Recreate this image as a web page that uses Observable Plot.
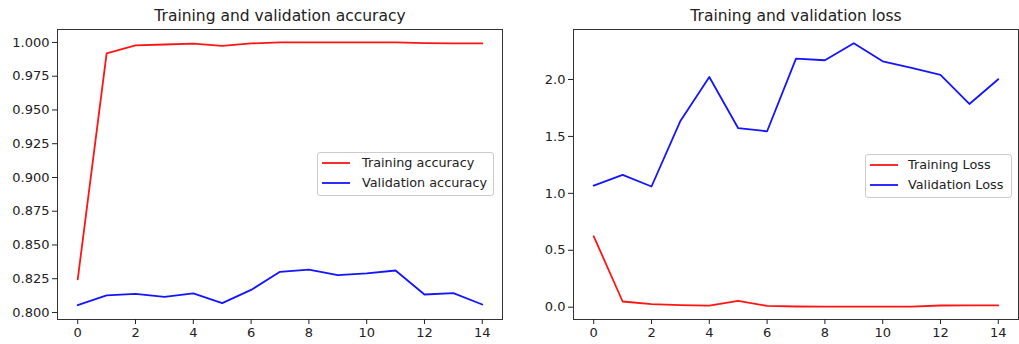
<!DOCTYPE html>
<html><head><meta charset="utf-8">
<script src="https://cdn.jsdelivr.net/npm/d3@7"></script>
<script src="https://cdn.jsdelivr.net/npm/@observablehq/plot@0.6"></script>
<style>
body{margin:0;background:#fff;font-family:"DejaVu Sans",sans-serif;}
#wrap{position:relative;width:1019px;height:344px;overflow:hidden;}
.panel{position:absolute;top:0;}
.legend{position:absolute;border:1px solid #cccccc;border-radius:3px;background:rgba(255,255,255,0.8);font-size:12.8px;color:#222;box-sizing:border-box;}
.legend svg{position:absolute;left:3px;}
.legend .lb{position:absolute;line-height:14px;white-space:nowrap;}
</style></head>
<body>
<div id="wrap"></div>
<script>
const epochs = [0,1,2,3,4,5,6,7,8,9,10,11,12,13,14];
const trainAcc = [0.8245,0.9919,0.9978,0.9985,0.9992,0.9975,0.9993,1.0,1.0,1.0,1.0,1.0,0.9995,0.9993,0.9993];
const valAcc = [0.8054,0.8126,0.8138,0.8116,0.8141,0.8069,0.8167,0.8301,0.8318,0.8276,0.8289,0.8311,0.8133,0.8143,0.8059];
const trainLoss = [0.623,0.050,0.027,0.019,0.014,0.055,0.012,0.006,0.005,0.005,0.005,0.005,0.015,0.016,0.016];
const valLoss = [1.068,1.162,1.060,1.636,2.022,1.572,1.545,2.183,2.169,2.318,2.160,2.101,2.040,1.785,2.002];
const xTicks = [0,2,4,6,8,10,12,14];
const accTicks = [0.800,0.825,0.850,0.875,0.900,0.925,0.950,0.975,1.000];
const lossTicks = [0.0,0.5,1.0,1.5,2.0];
const accNames = ["Training accuracy","Validation accuracy"];
const lossNames = ["Training Loss","Validation Loss"];
const colors = ["#ff0000","#0000ff"];

const wrap = document.getElementById("wrap");
const NS = "http://www.w3.org/2000/svg";

function panel(o){
  const data = o.series.flatMap((vals,k)=>epochs.map((e,i)=>({epoch:e,value:vals[i],name:o.names[k]})));
  const svg = Plot.plot({
    width:o.width, height:344,
    marginLeft:o.ml, marginRight:o.mr, marginTop:29, marginBottom:25,
    x:{domain:[-0.7,14.7]},
    y:{domain:o.yDomain},
    color:{domain:o.names, range:colors},
    style:{fontFamily:'"DejaVu Sans",sans-serif', fontSize:"13px", color:"#222", background:"transparent", overflow:"visible"},
    marks:[
      Plot.line(data,{x:"epoch",y:"value",z:"name",stroke:"name",strokeWidth:1.8,strokeLinejoin:"round",strokeOpacity:0.92}),
      Plot.frame({stroke:"#333",strokeWidth:1}),
      Plot.axisX({ticks:xTicks,tickSize:5,tickPadding:3,label:null,tickFormat:d3.format("d")}),
      Plot.axisY({ticks:o.yTicks,tickSize:5,tickPadding:3,label:null,tickFormat:d3.format(o.fmt)}),
      Plot.text([o.title],{text:d=>d,frameAnchor:"top",dy:-13,lineAnchor:"middle",fontSize:15.5,fill:"#222"})
    ]
  });
  const div = document.createElement("div");
  div.className="panel"; div.style.left=o.left+"px";
  div.appendChild(svg);
  wrap.appendChild(div);
  const lg = document.createElement("div");
  lg.className="legend";
  Object.assign(lg.style,{left:o.lg[0]+"px",top:o.lg[1]+"px",width:o.lg[2]+"px",height:o.lg[3]+"px"});
  o.names.forEach((n,i)=>{
    const s=document.createElementNS(NS,"svg");
    s.setAttribute("width","30"); s.setAttribute("height","6");
    s.style.top=(7+i*20)+"px";
    const ln=document.createElementNS(NS,"line");
    ln.setAttribute("x1","1");ln.setAttribute("x2","29");ln.setAttribute("y1","3");ln.setAttribute("y2","3");
    ln.setAttribute("stroke",colors[i]);ln.setAttribute("stroke-width","1.8");ln.setAttribute("stroke-opacity","0.92");
    s.appendChild(ln);
    const lb=document.createElement("div"); lb.className="lb";
    Object.assign(lb.style,{left:o.lgText+"px",top:(3+i*20)+"px"});
    lb.textContent=n;
    lg.appendChild(s); lg.appendChild(lb);
  });
  wrap.appendChild(lg);
}

panel({left:0,width:510,ml:57,mr:8,yDomain:[0.7948,1.0096],yTicks:accTicks,fmt:".3f",
  series:[trainAcc,valAcc],names:accNames,title:"Training and validation accuracy",
  lg:[317,152,177,44],lgText:44});
panel({left:510,width:509,ml:63,mr:1,yDomain:[-0.108,2.439],yTicks:lossTicks,fmt:".1f",
  series:[trainLoss,valLoss],names:lossNames,title:"Training and validation loss",
  lg:[865,154,147,44],lgText:42});
</script>
</body></html>
